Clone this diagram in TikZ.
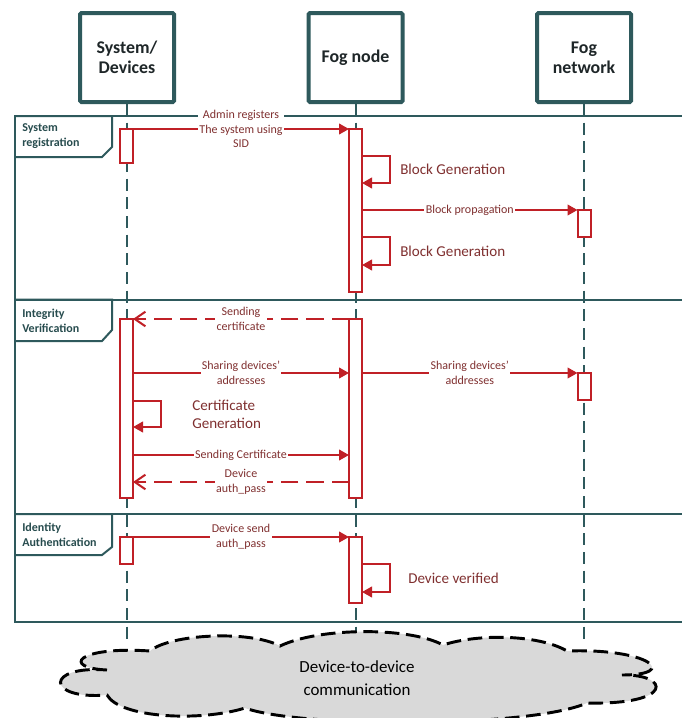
\documentclass[tikz,border=0pt]{standalone}
\usepackage{fontspec}
\setmainfont{Carlito}
\usetikzlibrary{arrows.meta}

\definecolor{frameteal}{RGB}{46,89,92}
\definecolor{msgred}{RGB}{192,32,38}
\definecolor{lbltext}{RGB}{128,48,48}
\definecolor{headtext}{RGB}{30,38,40}
\definecolor{cloudgray}{RGB}{217,217,217}

\begin{document}
\begin{tikzpicture}[x=0.75pt,y=-0.75pt,
  head/.style={draw=frameteal, line width=3pt, fill=white, rounded corners=1pt,
    minimum width=70.5pt, minimum height=66.75pt, inner sep=0pt, align=center,
    text=headtext, font=\fontsize{13.4}{15}\selectfont\bfseries},
  life/.style={draw=frameteal, line width=1.5pt, dash pattern=on 9pt off 5pt},
  frame/.style={draw=frameteal, line width=1.5pt},
  framelbl/.style={anchor=west, align=left, inner sep=0pt, text=frameteal!85!black,
    font=\fontsize{9}{11.25}\selectfont\bfseries},
  act/.style={draw=msgred, line width=1.5pt, fill=white, minimum width=9.75pt,
    inner sep=0pt, outer sep=0pt},
  msg/.style={draw=msgred, line width=1.5pt, -{Triangle[length=7.5pt,width=8pt]}},
  reply/.style={draw=msgred, line width=1.5pt, dash pattern=on 13pt off 6pt,
    -{Straight Barb[length=8pt,width=11pt]}},
  lbl/.style={fill=white, inner sep=1pt, align=center, text=lbltext,
    font=\fontsize{9}{11}\selectfont},
  bigtxt/.style={anchor=west, align=left, inner sep=0pt, text=lbltext,
    font=\fontsize{11.3}{13.5}\selectfont},
  cloudline/.style={draw=black, line width=2.2pt, dash pattern=on 11pt off 5pt,
    fill=cloudgray}
]
\useasboundingbox (0,0) rectangle (682,718);
\fill[white] (0,0) rectangle (682,718);

% participants
\node[head] (sys) at (127,57.5) {System/\\Devices};
\node[head] (fog) at (355.5,57.5) {Fog node};
\node[head] (net) at (584,57.5) {Fog\\network};

% combined fragments
\draw[frame] (15,116) rectangle (690,299.5);
\draw[frame] (15,299.5) rectangle (690,514);
\draw[frame] (15,514) rectangle (690,622);
\draw[frame] (15,116) -| (112,147) -- (102,157) -- (15,157);
\draw[frame] (15,299.5) -| (112,330) -- (102,341) -- (15,341);
\draw[frame] (15,514) -| (112,547) -- (102,555) -- (15,555);
\node[framelbl] (fr1) at (22,136.5) {System\\registration};
\node[framelbl] (fr2) at (22,321) {Integrity\\Verification};
\node[framelbl] (fr3) at (22,535) {Identity\\Authentication};

% lifelines
\coordinate (sysEnd) at (127,640);
\coordinate (fogEnd) at (355.5,640);
\coordinate (netEnd) at (584,640);
\draw[life] (sys) -- (sysEnd);
\draw[life] (fog) -- (fogEnd);
\draw[life] (net) -- (netEnd);

% activation bars
\node[act, minimum height=25.5pt]   (s1) at (126.5,146)   {};
\node[act, minimum height=122.25pt] (f1) at (355.5,210.5) {};
\node[act, minimum height=20.25pt]  (n1) at (584,223.5)   {};
\node[act, minimum height=134.25pt] (s2) at (126.5,408.5) {};
\node[act, minimum height=134.25pt] (f2) at (355.5,408.5) {};
\node[act, minimum height=20.25pt]  (n2) at (584,386.5)   {};
\node[act, minimum height=20.25pt]  (s3) at (126.5,550.5) {};
\node[act, minimum height=49.5pt]   (f3) at (355.5,570)   {};

% system registration
\draw[msg] (s1.north east) -- node[lbl] (m1) {Admin registers\\The system using\\SID} (f1.north west);
\coordinate (g1a) at (362,156);
\coordinate (g1b) at (362,183);
\draw[msg] (g1a) -- ++(28,0) |- (g1b);
\node[bigtxt] (t1) at (400,169) {Block Generation};
\draw[msg] (f1.east |- n1.north) -- node[lbl] (m2) {Block propagation} (n1.north west);
\coordinate (g2a) at (362,237);
\coordinate (g2b) at (362,265);
\draw[msg] (g2a) -- ++(28,0) |- (g2b);
\node[bigtxt] (t2) at (400,251) {Block Generation};

% integrity verification
\draw[reply] (f2.north west) -- node[lbl] (m3) {Sending\\certificate} (s2.north east);
\draw[msg] (s2.east |- n2.north) -- node[lbl] (m4) {Sharing devices’\\addresses} (f2.west |- n2.north);
\draw[msg] (f2.east |- n2.north) -- node[lbl] (m5) {Sharing devices’\\addresses} (n2.north west);
\coordinate (g3a) at (133,401);
\coordinate (g3b) at (133,427);
\draw[msg] (g3a) -- ++(28,0) |- (g3b);
\node[bigtxt] (t3) at (192,414) {Certificate\\Generation};
\coordinate (c1a) at (133,455);
\coordinate (c1b) at (349,455);
\draw[msg] (c1a) -- node[lbl] (m6) {Sending Certificate} (c1b);
\coordinate (c2a) at (349,482);
\coordinate (c2b) at (133,482);
\draw[reply] (c2a) -- node[lbl] (m7) {Device\\auth\_pass} (c2b);

% identity authentication
\draw[msg] (s3.north east) -- node[lbl] (m8) {Device send\\auth\_pass} (f3.north west);
\coordinate (g4a) at (362,564);
\coordinate (g4b) at (362,592);
\draw[msg] (g4a) -- ++(28,0) |- (g4b);
\node[bigtxt] (t4) at (408,578) {Device verified};

% device-to-device cloud
\begin{scope}
\clip (0,0) rectangle (682,718);
\draw[cloudline] (107,670)
  .. controls (62,668) and (75,646) .. (150,651)
  .. controls (170,634) and (250,630) .. (280,646)
  .. controls (320,627) and (410,627) .. (443,645)
  .. controls (480,633) and (540,635) .. (567,651)
  .. controls (650,648) and (680,675) .. (622,675)
  .. controls (670,674) and (675,705) .. (587,703)
  .. controls (530,728) and (300,728) .. (245,708)
  .. controls (200,722) and (120,718) .. (107,695)
  .. controls (45,700) and (45,665) .. cycle;
\end{scope}
\node[align=center, inner sep=0pt, text=black, font=\fontsize{12.7}{17}\selectfont]
  (d2d) at (357,678.5) {Device-to-device\\communication};
\end{tikzpicture}
\end{document}
